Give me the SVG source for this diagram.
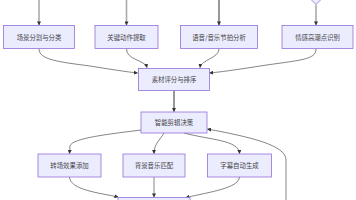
<svg xmlns="http://www.w3.org/2000/svg" width="356" height="200" viewBox="0 0 356 200">
<defs>
<style>
.node rect,.node polygon{fill:#ECECFF;stroke:#9370DB;stroke-width:0.8}
.node text{font-family:"Noto Sans CJK SC","Noto Sans",sans-serif;font-size:6.4px;fill:#444;text-anchor:middle;dominant-baseline:central}
.e{fill:none;stroke:#333;stroke-width:0.6}
.t{fill:none;stroke:#aaa;stroke-width:1.6}
</style>
<marker id="ah" viewBox="0 0 10 10" refX="9" refY="5" markerUnits="userSpaceOnUse" markerWidth="4" markerHeight="4" orient="auto">
<path d="M0,0 L10,5 L0,10 z" fill="#333"/>
</marker>
</defs>
<rect width="356" height="200" fill="#fff"/>
<g id="connectors">
<path class="t" d="M39,0 L39,25" marker-end="url(#ah)"/>
<path class="t" d="M126.5,0 L126.5,25" marker-end="url(#ah)"/>
<path class="e" style="stroke-width:1" d="M219,0 L219,25" marker-end="url(#ah)"/>
<path class="t" d="M316,5 L316,25" marker-end="url(#ah)"/>
<path class="e" d="M39,49 C39,60 60,62 90,66 C115,70 128,72 137.5,73" marker-end="url(#ah)"/>
<path class="e" d="M126.5,49 C126.5,60 145,60 147,67.5" marker-end="url(#ah)"/>
<path class="e" d="M219,49 C219,58 201,60 200,67.5" marker-end="url(#ah)"/>
<path class="e" d="M316,49 C316,60 300,60 260,66 C235,70 220,72 209.5,73" marker-end="url(#ah)"/>
<path class="e" style="stroke-width:1" d="M174,91 L174,111.5" marker-end="url(#ah)"/>
<path class="e" d="M141,130 C110,134 72,138 70,146 L69.5,153.5" marker-end="url(#ah)"/>
<path class="e" d="M164,133 C160,140 154,144 154,153.5" marker-end="url(#ah)"/>
<path class="e" d="M184,133 C210,140 239,140 239.5,153.5" marker-end="url(#ah)"/>
<path class="e" d="M286,200 L286,160 C286,145 250,137 207.5,129" marker-end="url(#ah)"/>
<path class="e" d="M69.5,177 C70,190 100,193 118,197" marker-end="url(#ah)"/>
<path class="e" d="M154,177 L154,197" marker-end="url(#ah)"/>
<path class="e" d="M239.5,177 C239,188 210,192 186,197.5" marker-end="url(#ah)"/>
</g>
<g id="n0" class="node"><polygon points="316,4.5 327,-6.5 316,-17.5 305,-6.5"/></g>
<g id="n1" class="node"><rect x="3.5" y="25.5" width="71" height="23"/><text x="39" y="37">场景分割与分类</text></g>
<g id="n2" class="node"><rect x="95" y="25.5" width="63" height="23"/><text x="126.5" y="37">关键动作提取</text></g>
<g id="n3" class="node"><rect x="180.5" y="25.5" width="77" height="23"/><text x="219" y="37">语音/音乐节拍分析</text></g>
<g id="n4" class="node"><rect x="282" y="25.5" width="71" height="23"/><text x="317.5" y="37">情感高潮点识别</text></g>
<g id="n5" class="node"><rect x="138.5" y="68.5" width="71" height="22"/><text x="174" y="79.5">素材评分与排序</text></g>
<g id="n6" class="node"><rect x="141" y="112" width="66" height="21"/><text x="174" y="122.5">智能剪辑决策</text></g>
<g id="n7" class="node"><rect x="38" y="154" width="63" height="23"/><text x="69.5" y="165.5">转场效果添加</text></g>
<g id="n8" class="node"><rect x="123" y="154" width="62" height="23"/><text x="154" y="165.5">背景音乐匹配</text></g>
<g id="n9" class="node"><rect x="207.5" y="154" width="64" height="23"/><text x="239.5" y="165.5">字幕自动生成</text></g>
<g id="n10" class="node"><rect x="118" y="197.5" width="72" height="24"/></g>
</svg>
